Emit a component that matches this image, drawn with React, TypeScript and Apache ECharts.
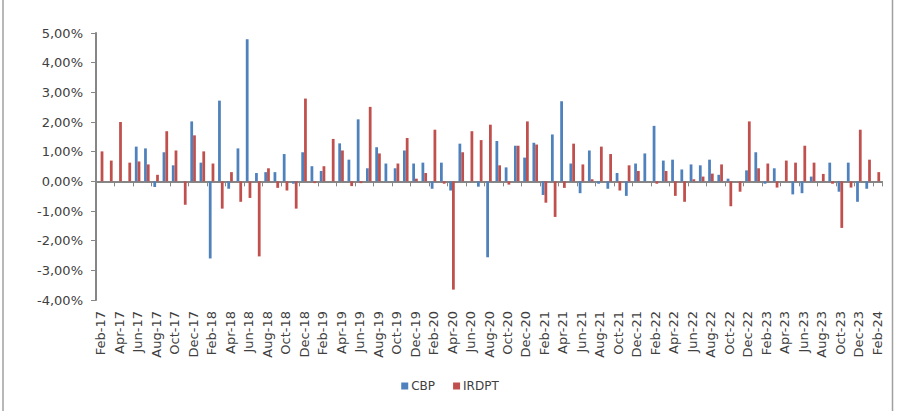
import React, { useEffect, useRef } from "react";
import * as echarts from "echarts";

const categories: string[] = [
  "Feb-17", "Mar-17", "Apr-17", "May-17", "Jun-17", "Jul-17", "Aug-17", "Sep-17", "Oct-17", "Nov-17", "Dec-17", "Jan-18",
  "Feb-18", "Mar-18", "Apr-18", "May-18", "Jun-18", "Jul-18", "Aug-18", "Sep-18", "Oct-18", "Nov-18", "Dec-18", "Jan-19",
  "Feb-19", "Mar-19", "Apr-19", "May-19", "Jun-19", "Jul-19", "Aug-19", "Sep-19", "Oct-19", "Nov-19", "Dec-19", "Jan-20",
  "Feb-20", "Mar-20", "Apr-20", "May-20", "Jun-20", "Jul-20", "Aug-20", "Sep-20", "Oct-20", "Nov-20", "Dec-20", "Jan-21",
  "Feb-21", "Mar-21", "Apr-21", "May-21", "Jun-21", "Jul-21", "Aug-21", "Sep-21", "Oct-21", "Nov-21", "Dec-21", "Jan-22",
  "Feb-22", "Mar-22", "Apr-22", "May-22", "Jun-22", "Jul-22", "Aug-22", "Sep-22", "Oct-22", "Nov-22", "Dec-22", "Jan-23",
  "Feb-23", "Mar-23", "Apr-23", "May-23", "Jun-23", "Jul-23", "Aug-23", "Sep-23", "Oct-23", "Nov-23", "Dec-23", "Jan-24",
  "Feb-24",
];

const cbp: number[] = [
  0, 0, 0, 0, 1.17, 1.11, -0.19, 0.98, 0.54, 0, 2.02, 0.63,
  -2.6, 2.72, -0.25, 1.11, 4.79, 0.28, 0.31, 0.31, 0.92, -0.08, 0.98, 0.51,
  0.35, 0, 1.28, 0.73, 2.09, 0.44, 1.15, 0.6, 0.44, 1.04, 0.6, 0.63,
  -0.25, 0.63, -0.31, 1.27, 0, -0.18, -2.56, 1.36, 0.47, 1.2, 0.8, 1.3,
  -0.46, 1.58, 2.7, 0.6, -0.4, 1.04, -0.08, -0.25, 0.28, -0.49, 0.6, 0.94,
  1.87, 0.7, 0.73, 0.4, 0.57, 0.54, 0.73, 0.22, 0.09, 0, 0.37, 0.98,
  -0.08, 0.44, 0, -0.44, -0.4, 0.16, 0, 0.63, -0.35, 0.63, -0.69, -0.25,
  0,
];

const irdpt: number[] = [
  1.01, 0.7, 2.0, 0.63, 0.67, 0.57, 0.22, 1.69, 1.04, -0.79, 1.55, 1.01,
  0.6, -0.92, 0.31, -0.69, -0.56, -2.53, 0.44, -0.22, -0.31, -0.92, 2.79, -0.06,
  0.51, 1.43, 1.04, -0.16, -0.06, 2.51, 0.94, 0, 0.6, 1.46, 0.09, 0.28,
  1.74, -0.08, -3.65, 0.98, 1.69, 1.39, 1.91, 0.54, -0.11, 1.2, 2.02, 1.24,
  -0.72, -1.2, -0.22, 1.27, 0.57, 0.07, 1.17, 0.92, -0.31, 0.54, 0.35, 0,
  -0.08, 0.35, -0.49, -0.69, 0.07, 0.16, 0.26, 0.57, -0.84, -0.35, 2.02, 0.44,
  0.6, -0.21, 0.7, 0.63, 1.2, 0.63, 0.25, -0.08, -1.57, -0.21, 1.74, 0.73,
  0.31,
];

const seriesNames: string[] = ["CBP", "IRDPT"];
const colors: string[] = ["#4F81BD", "#C0504D"];

const FONT = "'DejaVu Sans', sans-serif";
const AXIS_COLOR = "#868686";
const TEXT_COLOR = "#404040";

export default function App() {
  const ref = useRef<HTMLDivElement>(null);

  useEffect(() => {
    if (!ref.current) return;
    const chart = echarts.init(ref.current, undefined, { renderer: "svg" });
    chart.setOption({
      animation: false,
      backgroundColor: "#ffffff",
      textStyle: { fontFamily: FONT },
      grid: { left: 96, right: 18, top: 33, bottom: 111, containLabel: false },
      legend: {
        data: seriesNames,
        bottom: 14,
        left: "center",
        itemWidth: 7,
        itemHeight: 7,
        itemGap: 18,
        icon: "rect",
        textStyle: { color: TEXT_COLOR, fontSize: 12, fontFamily: FONT, padding: [0, 0, 0, -2] },
      },
      xAxis: [
        {
          type: "category",
          data: categories,
          position: "bottom",
          axisLine: { show: false, onZero: false },
          axisTick: { show: false },
          axisLabel: {
            interval: 1,
            rotate: 90,
            margin: 11,
            color: TEXT_COLOR,
            fontSize: 13,
            fontFamily: FONT,
          },
          splitLine: { show: false },
        },
        {
          type: "category",
          data: categories,
          position: "top",
          axisLine: { show: true, onZero: true, lineStyle: { color: AXIS_COLOR, width: 2 } },
          axisTick: { show: true, interval: 1, inside: true, length: 5, lineStyle: { color: AXIS_COLOR, width: 1 } },
          axisLabel: { show: false },
          splitLine: { show: false },
        },
      ],
      yAxis: {
        type: "value",
        min: -4,
        max: 5,
        interval: 1,
        axisLine: { show: true, lineStyle: { color: AXIS_COLOR, width: 2 } },
        axisTick: { show: true, length: 5, lineStyle: { color: AXIS_COLOR, width: 1 } },
        axisLabel: {
          margin: 13,
          color: TEXT_COLOR,
          fontSize: 13,
          fontFamily: FONT,
          formatter: (v: number) => v.toFixed(2).replace(".", ",") + "%",
        },
        splitLine: { show: false },
      },
      graphic: [
        { type: "line", shape: { x1: 3, y1: 0, x2: 3, y2: 411 }, style: { stroke: "#a0a0a0", lineWidth: 1.5 } },
        { type: "line", shape: { x1: 892.5, y1: 0, x2: 892.5, y2: 411 }, style: { stroke: "#a0a0a0", lineWidth: 1.5 } },
      ],
      series: [
        {
          name: seriesNames[0],
          type: "bar",
          data: cbp,
          xAxisIndex: 0,
          itemStyle: { color: colors[0] },
          barGap: "0%",
          barCategoryGap: "40%",
        },
        {
          name: seriesNames[1],
          type: "bar",
          data: irdpt,
          xAxisIndex: 0,
          itemStyle: { color: colors[1] },
          barGap: "0%",
          barCategoryGap: "40%",
        },
      ],
    });
    return () => chart.dispose();
  }, []);

  return (
    <div
      ref={ref}
      style={{ position: "fixed", left: 0, top: 0, width: 900, height: 411, background: "#fff" }}
    />
  );
}
